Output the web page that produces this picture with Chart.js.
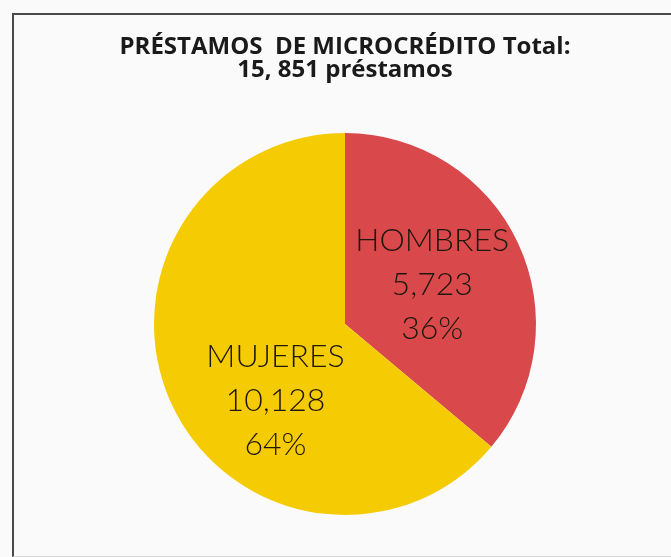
<!DOCTYPE html>
<html>
<head>
<meta charset="utf-8">
<script src="https://cdn.jsdelivr.net/npm/chart.js@4.4.1/dist/chart.umd.min.js"></script>
<style>
  html, body { margin: 0; padding: 0; background: #fafafa; }
  body { width: 671px; height: 557px; position: relative; overflow: hidden; }
  #frame {
    position: absolute; left: 12px; top: 13px; width: 720px; height: 541px;
    border-top: 2px solid #4a4a4a; border-left: 2px solid #4a4a4a; border-bottom: 1px solid #d8d8d8;
  }
  #wrap { position: absolute; left: 0; top: 0; width: 671px; height: 557px; }
</style>
</head>
<body>
<div id="frame"></div>
<div id="wrap"><canvas id="pieChart"></canvas></div>
<script>
// datos del gráfico
const titleLines = ['PRÉSTAMOS  DE MICROCRÉDITO Total:', '15, 851 préstamos'];
const categories = ['HOMBRES', 'MUJERES'];
const loans = [5723, 10128];
const sliceColors = ['#d9484b', '#f5cc04'];

const total = loans.reduce((a, b) => a + b, 0);

// etiquetas dentro de cada porción: nombre, cantidad y porcentaje
const sliceLabels = {
  id: 'sliceLabels',
  afterDatasetsDraw(chart, args, opts) {
    const ctx = chart.ctx;
    const meta = chart.getDatasetMeta(0);
    meta.data.forEach((arc, i) => {
      const p = arc.getProps(['x', 'y', 'startAngle', 'endAngle', 'outerRadius'], true);
      const place = opts.place[i];
      const ang = (p.startAngle + p.endAngle) / 2 + place.turn * Math.PI / 180;
      const r = p.outerRadius * place.at;
      const cx = p.x + Math.cos(ang) * r;
      const cy = p.y + Math.sin(ang) * r;
      const value = loans[i];
      const lines = [
        categories[i],
        value.toLocaleString('en-US'),
        Math.round(value / total * 100) + '%'
      ];
      ctx.save();
      ctx.font = opts.font;
      ctx.fillStyle = opts.color;
      ctx.textAlign = 'center';
      ctx.textBaseline = 'middle';
      lines.forEach((t, k) => {
        ctx.fillText(t, cx, cy + (k - 1) * opts.lineGap);
      });
      ctx.restore();
    });
  }
};

new Chart(document.getElementById('pieChart'), {
  type: 'pie',
  data: {
    labels: categories,
    datasets: [{
      data: loans,
      backgroundColor: sliceColors,
      borderWidth: 0
    }]
  },
  plugins: [sliceLabels],
  options: {
    responsive: true,
    maintainAspectRatio: false,
    animation: false,
    layout: { padding: { left: 19, right: 0, top: 0, bottom: 42 } },
    plugins: {
      legend: { display: false },
      tooltip: { enabled: false },
      title: {
        display: true,
        text: titleLines,
        color: '#1a1a1a',
        font: { family: '"Open Sans", sans-serif', size: 24, weight: 'bold', lineHeight: 0.98 },
        padding: { top: 35, bottom: 51 }
      },
      sliceLabels: {
        font: '300 32px Lato, "Open Sans", sans-serif',
        color: '#1e170c',
        lineGap: 44,
        place: [{ turn: 1, at: 0.5 }, { turn: -22.6, at: 0.54 }]
      }
    }
  }
});
</script>
</body>
</html>
